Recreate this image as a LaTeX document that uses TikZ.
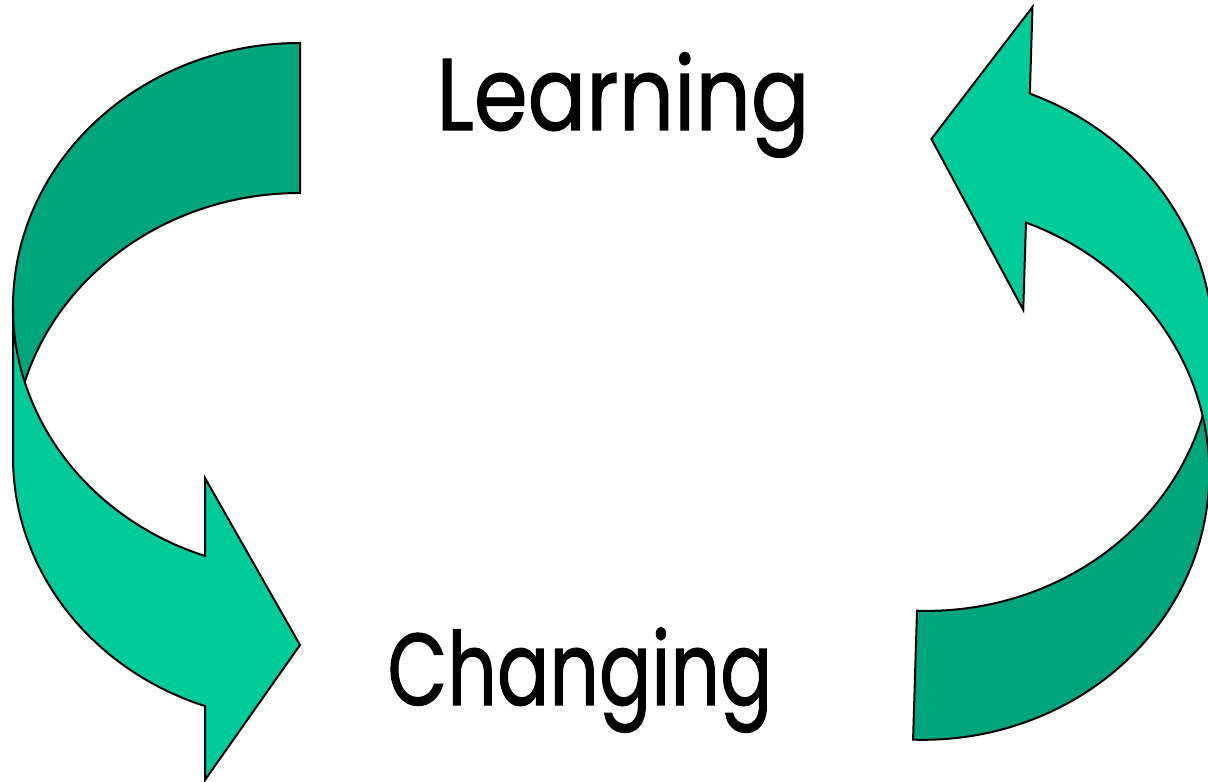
\documentclass[tikz,border=0pt]{standalone}
\usepackage{fontspec}
\setmainfont{Poppins}[FakeBold=1.2]
\definecolor{bandfront}{HTML}{00CC99}
\definecolor{bandback}{HTML}{00A67B}
\begin{document}
\begin{tikzpicture}[x=1pt,y=1pt,
  front/.style={fill=bandfront,draw=black,line width=2pt,line join=miter},
  back/.style={fill=bandback,draw=black,line width=2pt,line join=miter},
  lbl/.style={font=\fontsize{102}{110}\selectfont,inner sep=0pt,anchor=base}]
\useasboundingbox (0,0) rectangle (1208,782);
\clip (0,0) rectangle (1208,782);
% left arrow
\draw[back] (300,739) arc[start angle=90,end angle=180,x radius=287,y radius=264]
  -- (13,325) arc[start angle=180,end angle=90,x radius=287,y radius=264] -- cycle;
\draw[front] (13,475) -- (13,325)
  arc[start angle=180,end angle=250.7,x radius=287,y radius=264]
  -- (205,2) -- (300,137) -- (205,304) -- (205,226)
  arc[start angle=250.7,end angle=180,x radius=287,y radius=264] -- cycle;
% right arrow
\begin{scope}[rotate around={-1.75:(1060,382)}]
\draw[back] (923.5,167) -- (923.5,38)
  arc[start angle=270,end angle=360,x radius=288,y radius=268]
  -- (1211.5,435) arc[start angle=0,end angle=-90,x radius=288,y radius=268] -- cycle;
\draw[front] (1020.5,687.3)
  arc[start angle=70.3,end angle=0,x radius=288,y radius=268]
  -- (1211.5,306) arc[start angle=0,end angle=70.3,x radius=288,y radius=268]
  -- (1020.5,471) -- (923.5,639) -- (1020.5,774) -- cycle;
\end{scope}
\node[lbl,xscale=0.85] (learn) at (623,652) {Learning};
\node[lbl,xscale=0.76] (change) at (580,77) {Changing};
\end{tikzpicture}
\end{document}
